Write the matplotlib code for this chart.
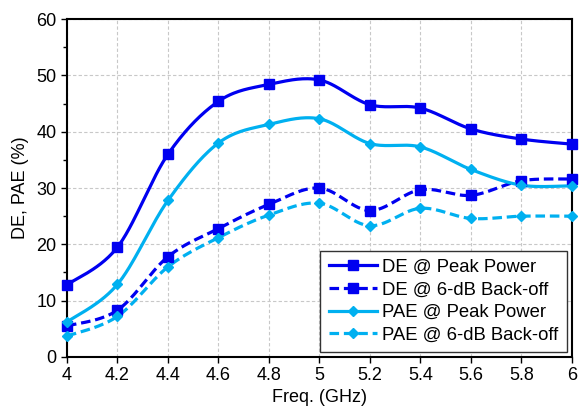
import numpy as np
import matplotlib
matplotlib.use("Agg")
import matplotlib.pyplot as plt
from matplotlib.ticker import MultipleLocator

plt.rcParams['font.family'] = ['Liberation Sans', 'DejaVu Sans']

freq = [4.0, 4.2, 4.4, 4.6, 4.8, 5.0, 5.2, 5.4, 5.6, 5.8, 6.0]
de_peak = [12.8, 19.5, 36.0, 45.4, 48.4, 49.2, 44.8, 44.2, 40.5, 38.7, 37.8]
de_bo = [5.5, 8.3, 17.8, 22.8, 27.1, 30.0, 26.0, 29.7, 28.7, 31.3, 31.6]
pae_peak = [6.2, 12.9, 27.8, 38.0, 41.3, 42.3, 37.9, 37.3, 33.3, 30.5, 30.4]
pae_bo = [3.7, 7.2, 16.0, 21.2, 25.2, 27.3, 23.3, 26.4, 24.6, 25.0, 25.0]
labels = ["DE @ Peak Power", "DE @ 6-dB Back-off", "PAE @ Peak Power", "PAE @ 6-dB Back-off"]


def smooth(x, y, n=30):
    x = np.asarray(x, float); y = np.asarray(y, float)
    px, py = [], []
    N = len(x)
    for i in range(N - 1):
        x0, y0 = (x[i - 1], y[i - 1]) if i > 0 else (x[i], y[i])
        x3, y3 = (x[i + 2], y[i + 2]) if i + 2 < N else (x[i + 1], y[i + 1])
        x1, y1, x2, y2 = x[i], y[i], x[i + 1], y[i + 1]
        c1x = x1 + (x2 - x0) / 6; c1y = y1 + (y2 - y0) / 6
        c2x = x2 - (x3 - x1) / 6; c2y = y2 - (y3 - y1) / 6
        t = np.linspace(0, 1, n, endpoint=(i == N - 2))
        a = (1 - t) ** 3; b = 3 * (1 - t) ** 2 * t; c = 3 * (1 - t) * t ** 2; d = t ** 3
        px.extend(a * x1 + b * c1x + c * c2x + d * x2)
        py.extend(a * y1 + b * c1y + c * c2y + d * y2)
    return np.array(px), np.array(py)


fig = plt.figure(figsize=(5.8, 4.16), dpi=100)
ax = fig.add_axes([0.1155, 0.142, 0.8705, 0.812])

blue = '#0000F0'
cyan = '#00B0F0'
series = [
    (de_peak, blue, '-', 's', 7.5),
    (de_bo, blue, (0, (3, 1.5)), 's', 7.5),
    (pae_peak, cyan, '-', 'D', 5.5),
    (pae_bo, cyan, (0, (3, 1.5)), 'D', 5.5),
]
handles = []
for (vals, col, ls, mk, ms), lab in zip(series, labels):
    sx, sy = smooth(freq, vals)
    ax.plot(sx, sy, color=col, ls=ls, lw=2.3, zorder=3)
    ax.plot(freq, vals, ls='none', marker=mk, color=col, ms=ms, zorder=4, clip_on=False)
    h, = ax.plot([], [], color=col, ls=ls, lw=2.3, marker=mk, ms=ms)
    handles.append(h)

ax.set_xlim(4, 6)
ax.set_ylim(0, 60)
ax.yaxis.set_major_locator(MultipleLocator(10))
ax.yaxis.set_minor_locator(MultipleLocator(5))
ax.set_xticks(freq)
ax.set_xticklabels(['4', '4.2', '4.4', '4.6', '4.8', '5', '5.2', '5.4', '5.6', '5.8', '6'])
ax.grid(True, which='major', color='#C8C8C8', ls=(0, (3, 2)), lw=0.8)
ax.tick_params(direction='out', labelsize=13, length=4, width=1)
ax.tick_params(which='minor', direction='out', length=3, width=1)
for s in ax.spines.values():
    s.set_linewidth(1.5)
ax.set_xlabel('Freq. (GHz)', fontsize=13, labelpad=3)
ax.set_ylabel('DE, PAE (%)', fontsize=13, labelpad=5)

leg = ax.legend(handles, labels, loc='lower right', bbox_to_anchor=(0.99, 0.015),
                borderaxespad=0, fontsize=13.3, frameon=True, fancybox=False,
                edgecolor='#333333', framealpha=1, handlelength=2.6,
                handletextpad=0.3, borderpad=0.45, labelspacing=0.3)
leg.get_frame().set_linewidth(1.0)

fig.savefig('out.png', dpi=100)
